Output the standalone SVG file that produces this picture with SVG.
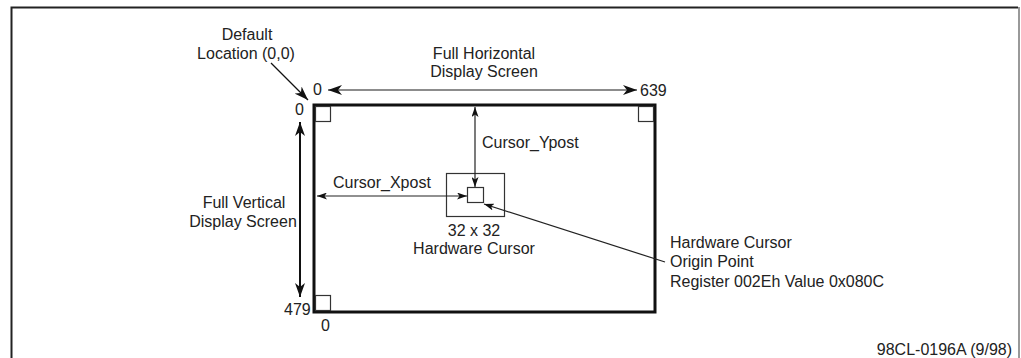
<svg xmlns="http://www.w3.org/2000/svg" width="1021" height="358" viewBox="0 0 1021 358">
<style>
text{font-family:"Liberation Sans",Arial,sans-serif;font-size:16px;fill:#222}
.c{text-anchor:middle}
.e{text-anchor:end}
.thin{fill:none;stroke:#333;stroke-width:1.2}
</style>
<defs>
<marker id="big" viewBox="0 0 14 10" refX="14" refY="5" markerWidth="14" markerHeight="10" markerUnits="userSpaceOnUse" orient="auto-start-reverse"><path d="M0,0 L14,5 L0,10 L4,5 z" fill="#111"/></marker>
<marker id="sm" viewBox="0 0 10 7" refX="10" refY="3.5" markerWidth="10" markerHeight="7" markerUnits="userSpaceOnUse" orient="auto-start-reverse"><path d="M0,0 L10,3.5 L0,7 L2.5,3.5 z" fill="#111"/></marker>
</defs>
<rect width="1021" height="358" fill="#fff"/>
<g id="frame">
<path d="M11.5,358 V7.5 H1018" fill="none" stroke="#222" stroke-width="2"/>
<path d="M1019,7 V358" stroke="#999" stroke-width="2"/>
</g>
<g id="screen">
<rect x="314" y="105" width="341" height="207" fill="none" stroke="#111" stroke-width="3"/>
<rect x="315.5" y="106.5" width="15" height="15" class="thin"/>
<rect x="638.5" y="106.5" width="15" height="15" class="thin"/>
<rect x="315.5" y="295.5" width="15" height="15" class="thin"/>
</g>
<g id="cursor">
<rect x="446.5" y="173.5" width="58" height="43" class="thin"/>
<rect x="467.5" y="187.5" width="16" height="15" class="thin"/>
<text class="c" x="474" y="236">32 x 32</text>
<text class="c" x="474" y="254">Hardware Cursor</text>
</g>
<g id="labels">
<text class="c" x="247" y="40">Default</text>
<text class="c" x="246" y="59">Location (0,0)</text>
<text x="313" y="95">0</text>
<text x="640" y="96">639</text>
<text class="c" x="484" y="59">Full Horizontal</text>
<text class="c" x="484" y="77">Display Screen</text>
<text x="295" y="115">0</text>
<text class="c" x="244" y="208">Full Vertical</text>
<text class="c" x="243" y="227">Display Screen</text>
<text x="284" y="315">479</text>
<text x="321" y="331">0</text>
<text x="482" y="148">Cursor_Ypost</text>
<text x="333" y="188">Cursor_Xpost</text>
<text x="670" y="248">Hardware Cursor</text>
<text x="670" y="267">Origin Point</text>
<text x="670" y="287">Register 002Eh Value 0x080C</text>
<text class="e" x="1012" y="355">98CL-0196A (9/98)</text>
</g>
<g id="connectors">
<line x1="328" y1="90" x2="637" y2="90" stroke="#666" stroke-width="1.5" marker-start="url(#big)" marker-end="url(#big)"/>
<line x1="300" y1="122" x2="300" y2="297" stroke="#111" stroke-width="2" marker-start="url(#big)" marker-end="url(#big)"/>
<line x1="271" y1="63" x2="308" y2="100" stroke="#111" stroke-width="1.2" marker-end="url(#big)"/>
<line x1="475" y1="107" x2="475" y2="187" stroke="#222" stroke-width="1.2" marker-start="url(#sm)" marker-end="url(#sm)"/>
<line x1="317" y1="196" x2="467" y2="196" stroke="#222" stroke-width="1.2" marker-start="url(#sm)" marker-end="url(#sm)"/>
<line x1="665" y1="262" x2="484" y2="204" stroke="#222" stroke-width="1.2" marker-end="url(#sm)"/>
</g>
</svg>
